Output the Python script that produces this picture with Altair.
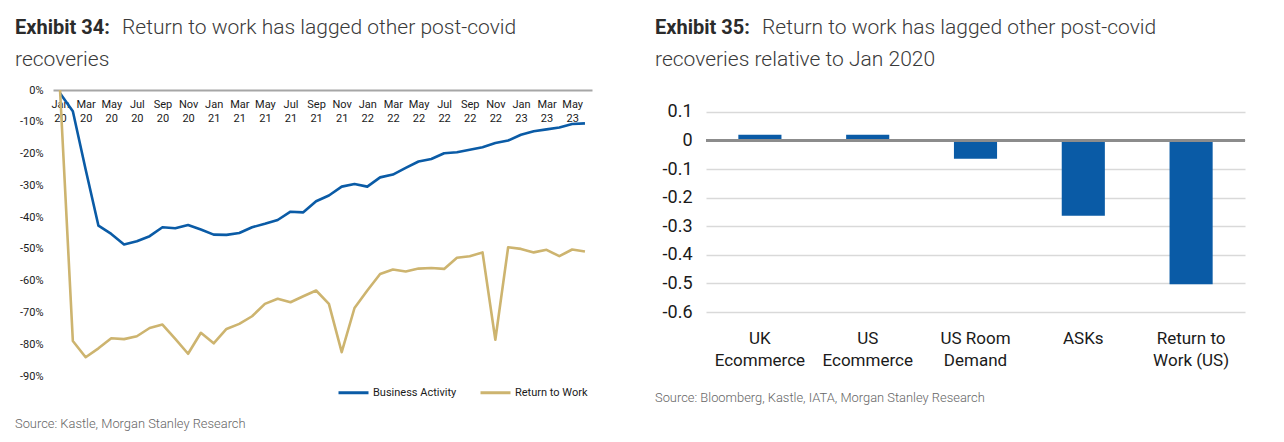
import altair as alt
import pandas as pd

FONT = "Roboto"
BLUE = "#0A5BA6"
TAN = "#CDB46F"

# ---------------- Exhibit 34 data ----------------
months = [
    "Jan 20", "Feb 20", "Mar 20", "Apr 20", "May 20", "Jun 20", "Jul 20", "Aug 20", "Sep 20", "Oct 20", "Nov 20", "Dec 20",
    "Jan 21", "Feb 21", "Mar 21", "Apr 21", "May 21", "Jun 21", "Jul 21", "Aug 21", "Sep 21", "Oct 21", "Nov 21", "Dec 21",
    "Jan 22", "Feb 22", "Mar 22", "Apr 22", "May 22", "Jun 22", "Jul 22", "Aug 22", "Sep 22", "Oct 22", "Nov 22", "Dec 22",
    "Jan 23", "Feb 23", "Mar 23", "Apr 23", "May 23", "Jun 23",
]
tick_months = [
    "Jan 20", "Mar 20", "May 20", "Jul 20", "Sep 20", "Nov 20",
    "Jan 21", "Mar 21", "May 21", "Jul 21", "Sep 21", "Nov 21",
    "Jan 22", "Mar 22", "May 22", "Jul 22", "Sep 22", "Nov 22",
    "Jan 23", "Mar 23", "May 23",
]
business_activity = [
    -1.0, -6.7, -25.0, -42.7, -45.3, -48.6, -47.6, -46.0, -43.2, -43.5, -42.5, -43.9,
    -45.5, -45.6, -45.0, -43.2, -42.1, -40.9, -38.3, -38.5, -35.0, -33.2, -30.4, -29.6,
    -30.4, -27.5, -26.6, -24.5, -22.5, -21.7, -19.9, -19.6, -18.8, -18.0, -16.7, -15.9,
    -14.1, -13.0, -12.4, -11.8, -10.7, -10.5,
]
return_to_work = [
    0.0, -79.0, -84.1, -81.3, -78.1, -78.4, -77.5, -74.9, -73.8, -78.3, -83.0, -76.4,
    -79.7, -75.2, -73.6, -71.2, -67.3, -65.7, -66.8, -64.9, -63.1, -67.3, -82.5, -68.6,
    -63.1, -57.9, -56.5, -57.1, -56.2, -56.0, -56.3, -52.8, -52.3, -51.1, -78.6, -49.5,
    -50.0, -51.1, -50.3, -52.3, -50.2, -50.8,
]
series_names = ["Business Activity", "Return to Work"]
pct_ticks = [0, -10, -20, -30, -40, -50, -60, -70, -80, -90]

# ---------------- Exhibit 35 data ----------------
categories = ["UK|Ecommerce", "US|Ecommerce", "US Room|Demand", "ASKs", "Return to|Work (US)"]
changes = [0.02, 0.02, -0.064, -0.263, -0.503]
bar_ticks = [0.1, 0.0, -0.1, -0.2, -0.3, -0.4, -0.5, -0.6]

# ---------------- Left chart ----------------
W1, H1 = 539, 286
line_df = pd.DataFrame({
    "month": months * 2,
    "value": business_activity + return_to_work,
    "series": [series_names[0]] * len(months) + [series_names[1]] * len(months),
})

lines = alt.Chart(line_df).mark_line(strokeWidth=2.6, strokeJoin="round").encode(
    x=alt.X(
        "month:N", sort=months,
        scale=alt.Scale(type="point", padding=0.55),
        axis=alt.Axis(
            values=tick_months, labelExpr="split(datum.value, ' ')", orient="bottom", offset=-H1,
            title=None, domainColor="#A6A6A6", domainWidth=2, ticks=False, labelAngle=0,
            labelFont=FONT, labelFontSize=11, labelColor="#1a1a1a", labelLineHeight=14.5,
            labelPadding=8, labelOverlap=False, grid=False,
        ),
    ),
    y=alt.Y(
        "value:Q", scale=alt.Scale(domain=[-90, 0], nice=False),
        axis=alt.Axis(
            values=pct_ticks, tickCount=12, labelExpr="datum.value + '%'", domain=False, ticks=False,
            grid=False, title=None, labelFont=FONT, labelFontSize=11, labelColor="#1a1a1a",
            labelPadding=10, labelOverlap=False,
        ),
    ),
    color=alt.Color(
        "series:N", sort=series_names,
        scale=alt.Scale(domain=series_names, range=[BLUE, TAN]),
        legend=alt.Legend(
            title=None, orient="none", legendX=284, legendY=286, direction="horizontal",
            symbolType="stroke", symbolSize=900, symbolStrokeWidth=3, labelFont=FONT,
            labelFontSize=11, labelColor="#1a1a1a", columnPadding=17, labelOffset=3,
        ),
    ),
)


def text_layer(txt, x, y, size, weight="normal", color="#3a3a3a"):
    return alt.Chart(pd.DataFrame({"t": [txt]})).mark_text(
        align="left", baseline="alphabetic", font=FONT, fontSize=size, fontWeight=weight, color=color
    ).encode(x=alt.value(x), y=alt.value(y), text="t:N")


left = alt.layer(
    lines,
    text_layer("Exhibit 34:", -38, -56, 20, "bold", "#2b2b2b"),
    text_layer("Return to work has lagged other post-covid", 69, -56, 21, 300),
    text_layer("recoveries", -38, -24, 21, 300),
    text_layer("Source: Kastle, Morgan Stanley Research", -38, 338, 12.9, 300, "#666666"),
).properties(width=W1, height=H1)

# ---------------- Right chart ----------------
W2, H2 = 539, 222
bar_df = pd.DataFrame({"category": categories, "change": changes})
y_scale = alt.Scale(domain=[-0.6, 0.1766], nice=False, zero=False)

bars = alt.Chart(bar_df).mark_bar(color=BLUE).encode(
    x=alt.X(
        "category:N", sort=categories,
        scale=alt.Scale(paddingInner=0.6, paddingOuter=0.3),
        axis=alt.Axis(
            title=None, labelExpr="split(datum.value, '|')", labelAngle=0, domain=False, ticks=False,
            labelFont=FONT, labelFontSize=17, labelColor="#1a1a1a", labelLineHeight=22,
            labelPadding=18, labelOverlap=False,
        ),
    ),
    y=alt.Y(
        "change:Q", scale=y_scale,
        axis=alt.Axis(
            values=bar_ticks, tickCount=12, title=None, domain=False, ticks=False, grid=True,
            gridColor="#D9D9D9", gridWidth=1.5, labelOverlap=False,
            labelExpr="datum.value == 0 ? '0' : (datum.value < 0 ? '-' : '') + format(abs(datum.value), '.1f')",
            labelFont=FONT, labelFontSize=18, labelColor="#1a1a1a", labelPadding=14,
        ),
    ),
)

zero_rule = alt.Chart(pd.DataFrame({"z": [0]})).mark_rule(color="#8C8C8C", strokeWidth=3).encode(
    y=alt.Y("z:Q", scale=y_scale)
)

right = alt.layer(
    bars,
    zero_rule,
    text_layer("Exhibit 35:", -51, -56, 20, "bold", "#2b2b2b"),
    text_layer("Return to work has lagged other post-covid", 56, -56, 21, 300),
    text_layer("recoveries relative to Jan 2020", -51, -24, 21, 300),
    text_layer("Source: Bloomberg, Kastle, IATA, Morgan Stanley Research", -51, 312, 12.9, 300, "#666666"),
).properties(width=W2, height=H2)

chart = alt.hconcat(left, right, spacing=63).properties(
    padding={"left": 7, "top": 9, "right": 5, "bottom": 5}
).configure_view(stroke=None)

chart.save("out.html", embed_options={"renderer": "svg", "actions": False})
